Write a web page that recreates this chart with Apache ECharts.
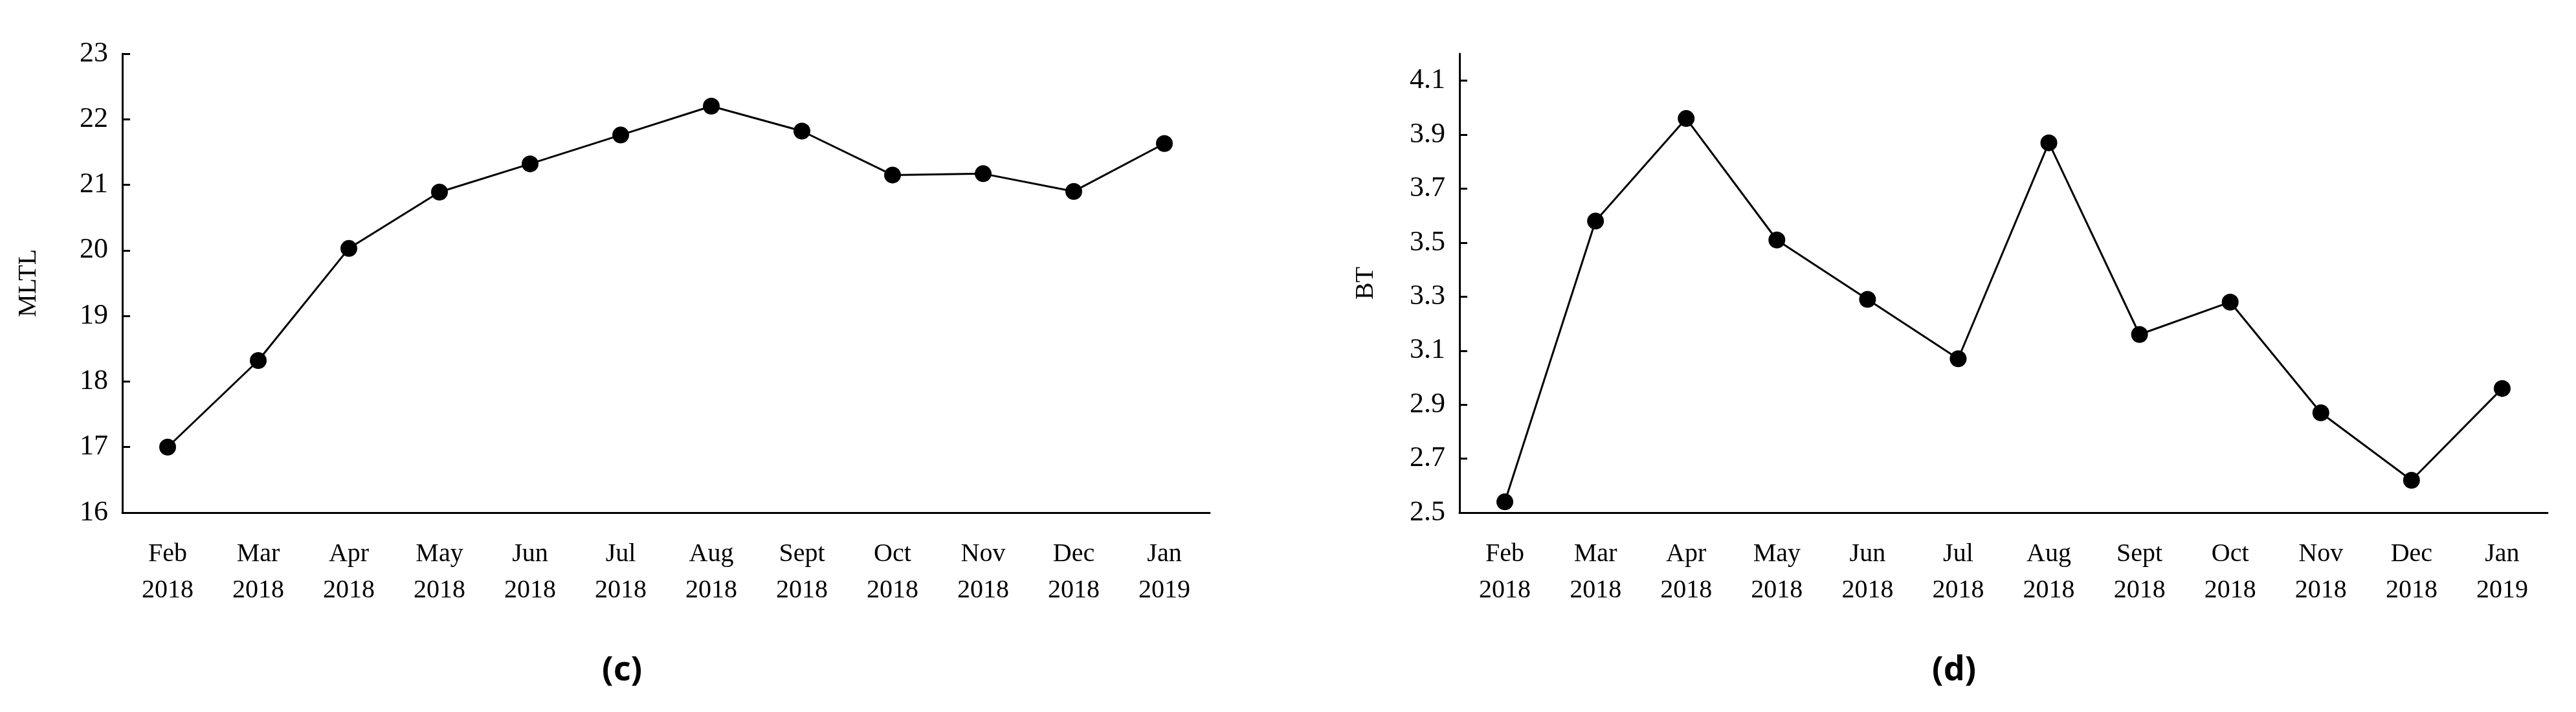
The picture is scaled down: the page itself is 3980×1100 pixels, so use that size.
<!DOCTYPE html>
<html>
<head>
<meta charset="utf-8">
<script src="https://cdn.jsdelivr.net/npm/echarts@6/dist/echarts.min.js"></script>
<style>html,body{margin:0;background:#fff}#chart{width:3980px;height:1100px}</style>
</head>
<body>
<div id="chart"></div>
<script>
var months = ['Feb\n2018', 'Mar\n2018', 'Apr\n2018', 'May\n2018', 'Jun\n2018', 'Jul\n2018',
  'Aug\n2018', 'Sept\n2018', 'Oct\n2018', 'Nov\n2018', 'Dec\n2018', 'Jan\n2019'];
var mltl = [17.0, 18.32, 20.03, 20.89, 21.32, 21.76, 22.2, 21.82, 21.15, 21.17, 20.9, 21.63];
var bt = [2.54, 3.58, 3.96, 3.51, 3.29, 3.07, 3.87, 3.16, 3.28, 2.87, 2.62, 2.96];
var btTicks = [2.5, 2.7, 2.9, 3.1, 3.3, 3.5, 3.7, 3.9, 4.1];

var font = 'Liberation Serif';
var axisLine = { show: true, lineStyle: { color: '#000', width: 3 } };

function xAxis(idx) {
  return {
    type: 'category', gridIndex: idx, data: months, boundaryGap: true,
    axisLine: axisLine, axisTick: { show: false },
    axisLabel: { color: '#000', fontFamily: font, fontSize: 40, lineHeight: 56, margin: 36 }
  };
}

var myChart = echarts.init(document.getElementById('chart'));
myChart.setOption({
  animation: false,
  grid: [
    { left: 189, width: 1680, top: 83, bottom: 308 },
    { left: 2255, width: 1681, top: 83, bottom: 308 }
  ],
  xAxis: [xAxis(0), xAxis(1)],
  yAxis: [
    {
      type: 'value', gridIndex: 0, min: 16, max: 23, interval: 1,
      name: 'MLTL', nameLocation: 'middle', nameGap: 125, nameRotate: 90,
      nameTextStyle: { color: '#000', fontFamily: font, fontSize: 40 },
      axisLine: axisLine, splitLine: { show: false },
      axisTick: { show: true, inside: true, length: 12, lineStyle: { color: '#000', width: 3 } },
      axisLabel: { color: '#000', fontFamily: font, fontSize: 44, margin: 22 }
    },
    {
      type: 'value', gridIndex: 1, min: 2.5, max: 4.2, interval: 0.2,
      name: 'BT', nameLocation: 'middle', nameGap: 125, nameRotate: 90,
      nameTextStyle: { color: '#000', fontFamily: font, fontSize: 40 },
      axisLine: axisLine, splitLine: { show: false },
      axisTick: { show: true, inside: true, length: 12, customValues: btTicks, lineStyle: { color: '#000', width: 3 } },
      axisLabel: { color: '#000', fontFamily: font, fontSize: 44, margin: 22, customValues: btTicks,
        formatter: function (v) { return v.toFixed(1); } }
    }
  ],
  graphic: [
    { type: 'text', left: 930, top: 1010, style: { text: '(c)', font: 'bold 52px "Noto Sans"', fill: '#000' } },
    { type: 'text', left: 2985, top: 1010, style: { text: '(d)', font: 'bold 52px "Noto Sans"', fill: '#000' } }
  ],
  series: [
    { type: 'line', xAxisIndex: 0, yAxisIndex: 0, data: mltl, symbol: 'circle', symbolSize: 26,
      itemStyle: { color: '#000' }, lineStyle: { color: '#000', width: 3 } },
    { type: 'line', xAxisIndex: 1, yAxisIndex: 1, data: bt, symbol: 'circle', symbolSize: 26,
      itemStyle: { color: '#000' }, lineStyle: { color: '#000', width: 3 } }
  ]
});
</script>
</body>
</html>
